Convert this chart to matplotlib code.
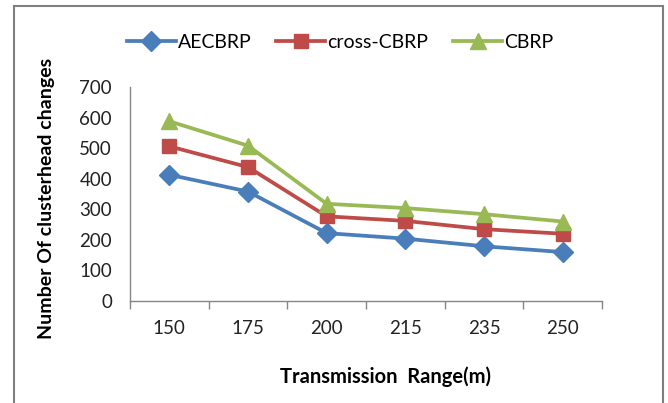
import matplotlib
matplotlib.use("Agg")
import matplotlib.pyplot as plt
from matplotlib.patches import Rectangle

plt.rcParams["font.family"] = ["Lato", "DejaVu Sans"]

ranges = ["150", "175", "200", "215", "235", "250"]
aecbrp = [413, 358, 222, 204, 179, 160]
cross_cbrp = [506, 438, 277, 262, 235, 220]
cbrp = [588, 508, 318, 304, 284, 260]

series = [
    ("AECBRP", aecbrp, "#4A7EBB", "D", 10.5),
    ("cross-CBRP", cross_cbrp, "#BE4B48", "s", 10),
    ("CBRP", cbrp, "#98B954", "^", 11.5),
]

fig = plt.figure(figsize=(6.68, 4.03), dpi=100)
ax = fig.add_axes([0.1946, 0.2531, 0.7066, 0.531])

xs = list(range(len(ranges)))
for name, vals, color, marker, ms in series:
    ax.plot(xs, vals, color=color, lw=2.7, marker=marker, ms=ms,
            markeredgecolor=color, label=name)

ax.set_xlim(-0.5, len(ranges) - 0.5)
ax.set_ylim(0, 700)
ax.set_yticks(range(0, 701, 100))
ax.set_xticks(xs)
ax.set_xticklabels(ranges)
ax.set_xticks([i - 0.5 for i in range(len(ranges) + 1)], minor=True)

axis_gray = "#868686"
for side in ("top", "right"):
    ax.spines[side].set_visible(False)
for side in ("left", "bottom"):
    ax.spines[side].set_color(axis_gray)
    ax.spines[side].set_linewidth(1.0)

ax.tick_params(axis="y", length=0, pad=13, labelsize=13.5, colors="#222222")
ax.tick_params(axis="x", which="major", length=0, pad=14, labelsize=13.5,
               colors="#222222")
ax.tick_params(axis="x", which="minor", length=5.5, width=1.0, color=axis_gray)

ax.set_xlabel("Transmission  Range(m)", fontsize=14.5, fontweight="bold")
ax.xaxis.set_label_coords(0.542, -0.307)
ax.set_ylabel("Number Of clusterhead changes", fontsize=14, fontweight="bold")
ax.yaxis.set_label_coords(-0.159, 0.481)

fig.legend(loc="center", bbox_to_anchor=(340 / 668, 1 - 42 / 403), ncol=3,
           frameon=False, fontsize=14, handlelength=2.5, handletextpad=0.1,
           columnspacing=1.3)

fig.patches.append(Rectangle((14 / 668, -0.05), (663 - 14) / 668, 1.05 - 6 / 403,
                             transform=fig.transFigure, fill=False,
                             edgecolor="#808080", lw=1.5))

fig.savefig("out.png", dpi=100)
